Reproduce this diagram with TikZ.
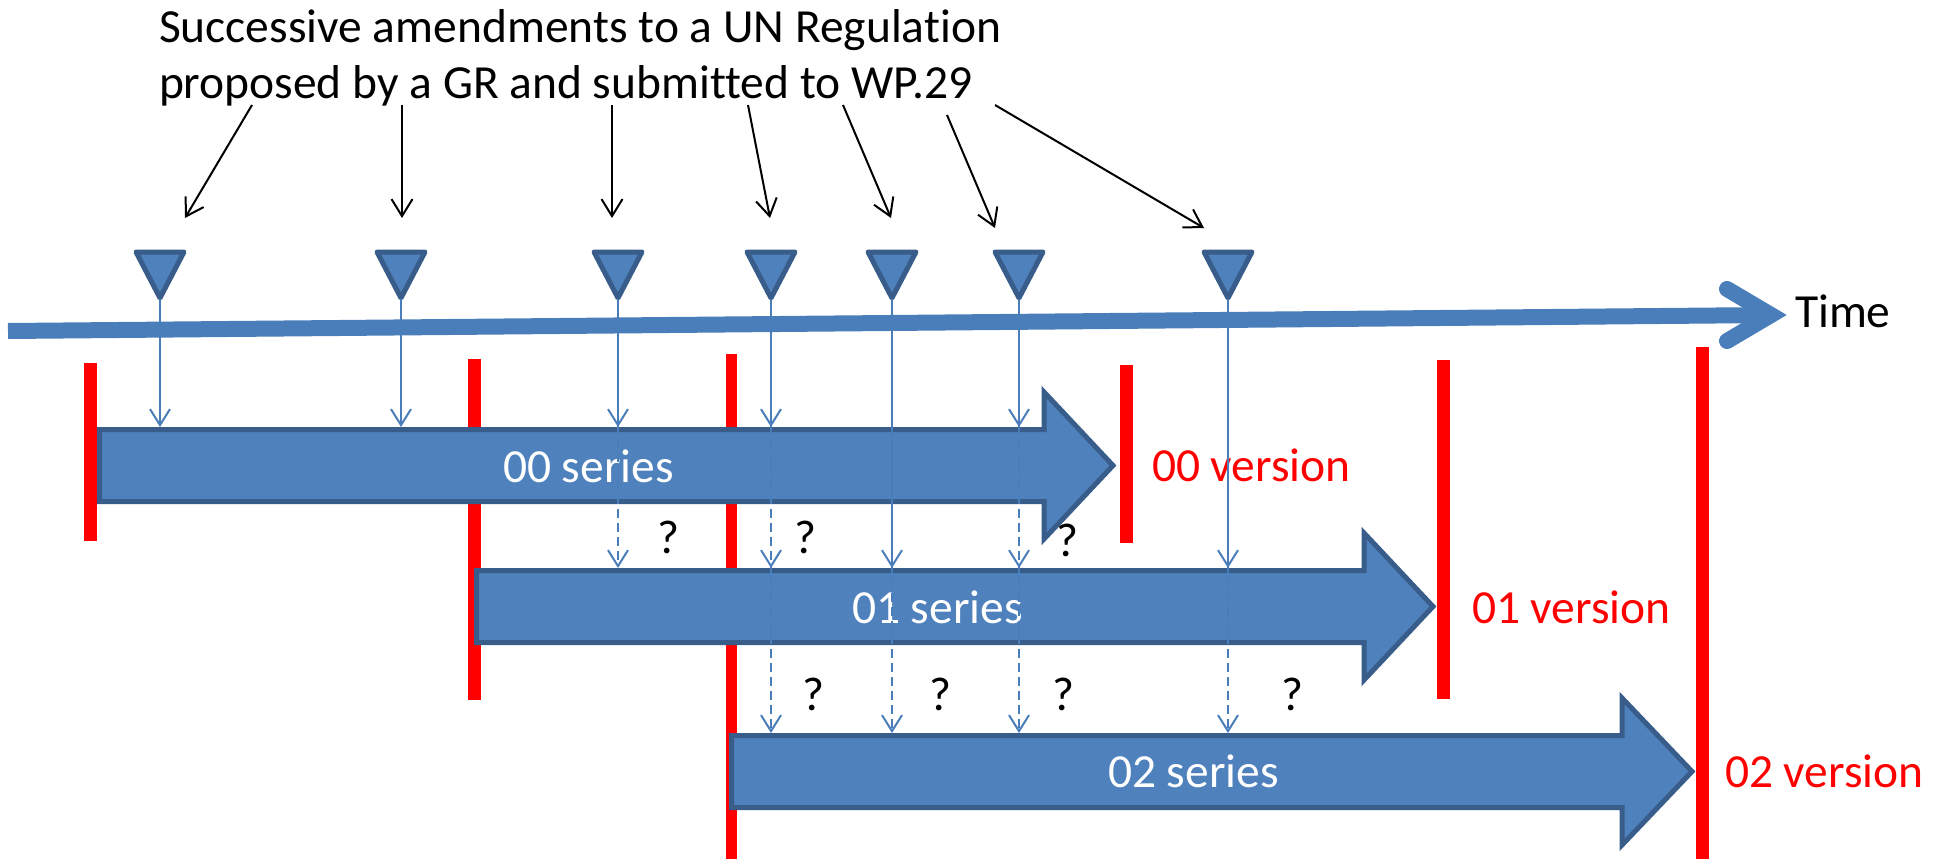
\documentclass[tikz,border=0pt]{standalone}
\usepackage{fontspec}
\setmainfont[Ligatures=NoCommon]{Carlito}
\usetikzlibrary{arrows.meta}
\definecolor{boxfill}{HTML}{4F81BD}
\definecolor{boxline}{HTML}{385D8A}
\definecolor{axisblue}{HTML}{4A7EBB}
\definecolor{vred}{HTML}{FF0000}
\begin{document}
\begin{tikzpicture}[x=1pt,y=-1pt,
  every node/.style={inner sep=0pt, outer sep=0pt, font=\fontsize{47.5}{57}\selectfont},
  seriesbox/.style={fill=boxfill, draw=boxline, line width=5pt, line join=miter},
  redbar/.style={fill=vred, draw=none},
  marker/.style={fill=boxfill, draw=boxline, line width=5pt, line join=round},
  amend/.style={axisblue, line width=2pt, -{Straight Barb[length=16pt,width=20pt]}},
  amenddash/.style={amend, dash pattern=on 9pt off 5pt},
  pointer/.style={black, line width=2pt, -{Straight Barb[length=17pt,width=21pt]}},
  qmark/.style={anchor=base, text=black},
  seriestext/.style={anchor=base west, text=white},
  versiontext/.style={anchor=base west, text=vred}]
\useasboundingbox (0,0) rectangle (1946,859);

% red bars
\fill[redbar] (84,363) rectangle (97,541);
\fill[redbar] (468,359) rectangle (481,700);
\fill[redbar] (726,354) rectangle (737,859);
\fill[redbar] (1120,365) rectangle (1133,543);
\fill[redbar] (1437,360) rectangle (1450,699);
\fill[redbar] (1696,347) rectangle (1709,859);

% series arrows
\draw[seriesbox] (99.5,429.5) -- (1044,429.5) -- (1044,392) -- (1113,465.5) -- (1044,539) -- (1044,501.5) -- (99.5,501.5) -- cycle;
\draw[seriesbox] (476.5,570.5) -- (1364,570.5) -- (1364,533) -- (1433,606.5) -- (1364,680) -- (1364,642.5) -- (476.5,642.5) -- cycle;
\draw[seriesbox] (731.5,735.5) -- (1622,735.5) -- (1622,698) -- (1692,771.5) -- (1622,845) -- (1622,807.5) -- (731.5,807.5) -- cycle;

\coordinate (top0) at (0,427);
\coordinate (top1) at (0,568);
\coordinate (top2) at (0,733);

% time axis
\draw[axisblue, line width=16pt] (8,331) -- (1760,315.1);
\draw[axisblue, line width=16pt, line cap=round, line join=miter] (1727,289) -- (1771,315) -- (1727,341);
\node[anchor=base west, text=black] (time) at (1795,327) {Time};

% triangles
\foreach \c/\n in {160/1,401/2,618/3,771/4,892/5,1019/6,1228/7} {
  \draw[marker] (\c-24,252) -- (\c+24,252) -- (\c,298) -- cycle;
  \coordinate (t\n) at (\c,299);
}

% texts
\node[anchor=base west] (title1) at (159,43) {Successive amendments to a UN Regulation};
\node[anchor=base west] (title2) at (159,99) {proposed by a GR and submitted to WP.29};
\node[seriestext] (s0) at (503,482) {00 series};
\node[seriestext] (s1) at (852,623) {01 series};
\node[seriestext] (s2) at (1108,787) {02 series};
\node[versiontext] (v0) at (1152,481) {00 version};
\node[versiontext] (v1) at (1472,623) {01 version};
\node[versiontext] (v2) at (1725,787) {02 version};

\node[qmark] (q1) at (668,553) {?};
\node[qmark] (q2) at (805,553) {?};
\node[qmark] (q3) at (1067,556) {?};
\node[qmark] (q4) at (813,710) {?};
\node[qmark] (q5) at (940,710) {?};
\node[qmark] (q6) at (1063,710) {?};
\node[qmark] (q7) at (1292,710) {?};

% amendment arrows
\draw[amend] (t1) -- (t1 |- top0);
\draw[amend] (t2) -- (t2 |- top0);
\draw[amend] (t3) -- (t3 |- top0);
\draw[amend] (t4) -- (t4 |- top0);
\draw[amend] (t6) -- (t6 |- top0);
\draw[amend] (t5) -- (t5 |- top1);
\draw[amend] (t7) -- (t7 |- top1);
\draw[amenddash] (t3) -- (t3 |- top1);
\draw[amenddash] (t4) -- (t4 |- top1);
\draw[amenddash] (t6) -- (t6 |- top1);
\draw[amenddash] (t4) -- (t4 |- top2);
\draw[amenddash] (t5) -- (t5 |- top2);
\draw[amenddash] (t6) -- (t6 |- top2);
\draw[amenddash] (t7) -- (t7 |- top2);

% pointers from title
\coordinate (p1s) at (252,105); \coordinate (p1e) at (185,218);
\coordinate (p2s) at (402,105); \coordinate (p2e) at (402,218);
\coordinate (p3s) at (612,105); \coordinate (p3e) at (612,218);
\coordinate (p4s) at (748,105); \coordinate (p4e) at (770,218);
\coordinate (p5s) at (843,105); \coordinate (p5e) at (891,218);
\coordinate (p6s) at (947,115); \coordinate (p6e) at (995,228);
\coordinate (p7s) at (995,105); \coordinate (p7e) at (1204,228);
\foreach \n in {1,...,7} { \draw[pointer] (p\n s) -- (p\n e); }
\end{tikzpicture}
\end{document}
